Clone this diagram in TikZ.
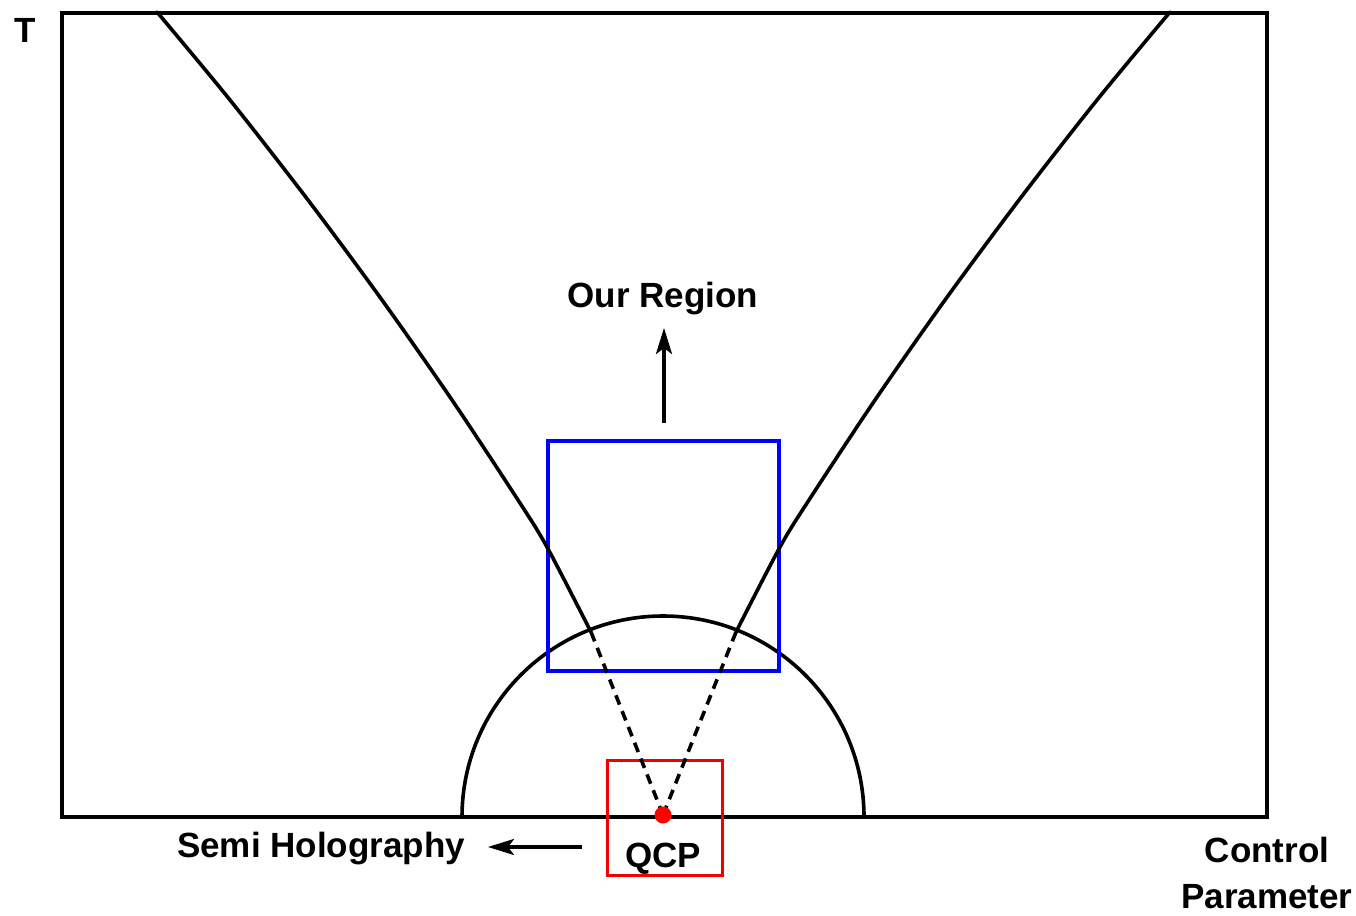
\documentclass[tikz,border=0pt]{standalone}
\usepackage{fontspec}
\setmainfont{Liberation Sans}
\usetikzlibrary{arrows.meta}
\begin{document}
\begin{tikzpicture}[x=1pt,y=-1pt,
  lbl/.style={font=\fontsize{35}{41}\selectfont\bfseries, inner sep=0pt, anchor=base},
  frameline/.style={line width=4pt, black},
  curveline/.style={line width=3.6pt, black, line cap=round},
  dashline/.style={line width=3.6pt, black, dash pattern=on 10pt off 7pt},
  bluebox/.style={line width=3.6pt, draw={rgb,255:red,0;green,0;blue,255}},
  redbox/.style={line width=3pt, draw={rgb,255:red,240;green,0;blue,0}},
  arr/.style={line width=3.4pt, -{Stealth[length=26pt,width=16pt,inset=6pt]}},
]
\useasboundingbox (0,0) rectangle (1356,915);
% frame
\draw[frameline] (62,13) rectangle (1267,817);
% semicircle
\draw[curveline] (462,817) arc (180:360:201);
% boxes
\draw[bluebox] (548,441) rectangle (779,671);
\draw[redbox] (607,760) rectangle (722,875);
% curves
\coordinate (qcp) at (663,815);
\coordinate (lc) at (591,632);
\coordinate (rc) at (736,632);
\draw[curveline] plot[smooth, tension=0.5] coordinates {(157,12) (230,100) (308,200) (382,300) (452,400) (518,500) (547,547) (591,632)};
\draw[curveline] plot[smooth, tension=0.5] coordinates {(1170,12) (1097,100) (1019,200) (945,300) (875,400) (809,500) (780,547) (736,632)};
\draw[dashline] (lc) -- (qcp);
\draw[dashline] (rc) -- (qcp);
\fill[red] (qcp) circle (8.5);
% labels
\node[lbl] (T) at (25.5,43) {T};
\node[lbl] (our) at (663,307) {Our Region};
\node[lbl] (semi) at (321,857) {Semi Holography};
\node[lbl] (qcplabel) at (663,867) {QCP};
\node[lbl] (ctrl) at (1267,862) {Control};
\node[lbl] (param) at (1267,908) {Parameter};
% arrows
\coordinate (upA) at (664,423);
\coordinate (upB) at (664,328);
\coordinate (leftA) at (582,847);
\coordinate (leftB) at (488,847);
\draw[arr] (upA) -- (upB);
\draw[arr] (leftA) -- (leftB);
\end{tikzpicture}
\end{document}
